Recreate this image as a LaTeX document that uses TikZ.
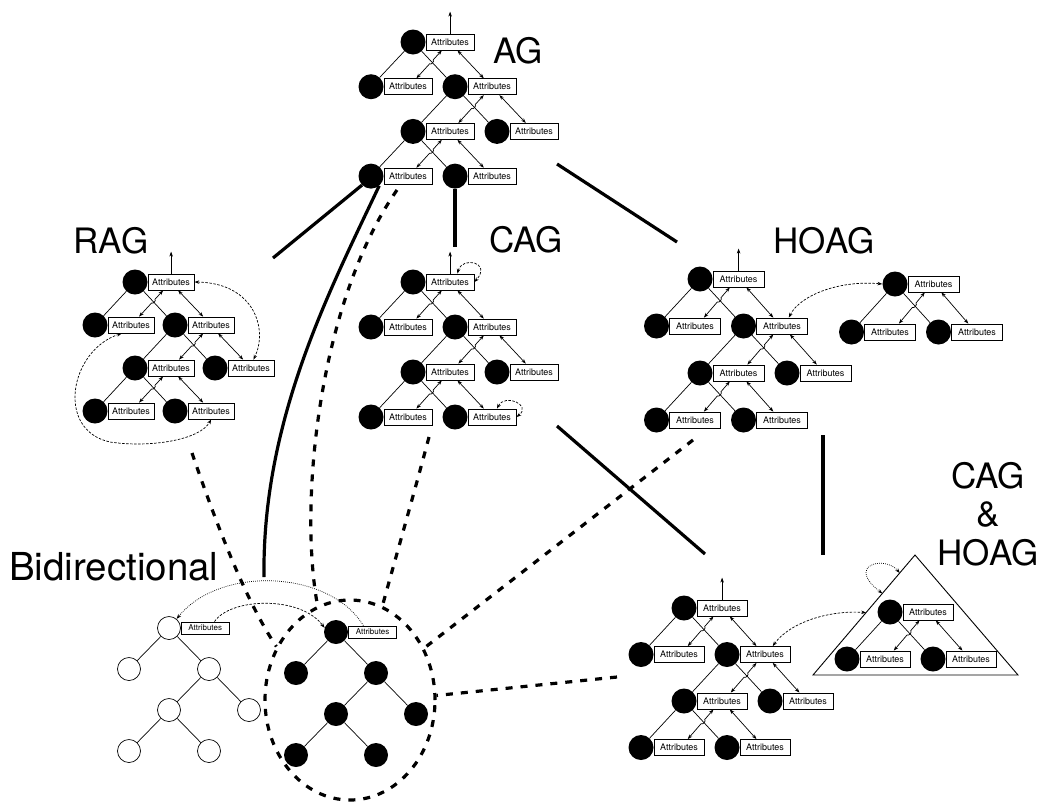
\documentclass[tikz,border=0pt]{standalone}
\usepackage{fontspec}
\setmainfont{TeX Gyre Heros}
\usetikzlibrary{arrows.meta,calc,shapes.geometric}
\tikzset{
  cnode/.style={circle, fill=black, minimum size=25pt, inner sep=0pt},
  bnode/.style={circle, fill=black, minimum size=24pt, inner sep=0pt},
  wnode/.style={circle, draw, fill=white, minimum size=23pt, inner sep=0pt, line width=0.7pt},
  abox/.style={draw, fill=white, minimum width=48pt, minimum height=16pt, inner sep=0pt, line width=0.8pt, font=\fontsize{9}{9}\selectfont},
  sbox/.style={abox, minimum height=12pt, font=\fontsize{8}{8}\selectfont},
  tedge/.style={line width=0.7pt},
  tip/.style={-{Stealth[length=5pt,width=3.6pt]}},
  battr/.style={{Stealth[length=4.8pt,width=3.5pt]}-{Stealth[length=4.8pt,width=3.5pt]}, line width=0.7pt},
  finedash/.style={line width=0.7pt, dash pattern=on 2.5pt off 1.5pt},
  finedot/.style={line width=0.7pt, dash pattern=on 0.8pt off 1.2pt},
  heavy/.style={line width=3.2pt},
  heavydash/.style={line width=3.2pt, dash pattern=on 7pt off 8pt},
  lbl/.style={font=\fontsize{35}{38}\selectfont, inner sep=0pt},
}
% left arrow with hop
\newcommand\hoparr[2]{%
  \coordinate (hA) at ($(#1.south west)!0.33!(#1.south east)$);
  \coordinate (hB) at ($(#2.north west)!0.67!(#2.north east)$);
  \draw[battr] (hA) -- ($(hA)!0.34!(hB)$) to[bend left=90] ($(hA)!0.48!(hB)$) -- (hB);}
\newcommand\strarr[2]{%
  \draw[battr] ($(#1.south west)!0.65!(#1.south east)$) -- ($(#2.north west)!0.33!(#2.north east)$);}
% full attributed tree: prefix, x, y, dx, dy, box width
\newcommand\attrtree[6]{%
  \node[cnode] (#1r) at (#2,#3) {};
  \node[cnode] (#1l) at ({#2-#4},{#3+#5}) {};
  \node[cnode] (#1R) at ({#2+#4},{#3+#5}) {};
  \node[cnode] (#1Rl) at (#2,{#3+2*#5}) {};
  \node[cnode] (#1Rr) at ({#2+2*#4},{#3+2*#5}) {};
  \node[cnode] (#1Rll) at ({#2-#4},{#3+3*#5}) {};
  \node[cnode] (#1Rlr) at ({#2+#4},{#3+3*#5}) {};
  \foreach \n in {r,l,R,Rl,Rr,Rll,Rlr}{\node[abox, minimum width=#6pt, anchor=west] (#1\n-b) at (#1\n.east) {Attributes};}
  \draw[tedge] (#1r) -- (#1l) (#1r) -- (#1R) (#1R) -- (#1Rl) (#1R) -- (#1Rr) (#1Rl) -- (#1Rll) (#1Rl) -- (#1Rlr);
  \hoparr{#1r-b}{#1l-b}\strarr{#1r-b}{#1R-b}
  \hoparr{#1R-b}{#1Rl-b}\strarr{#1R-b}{#1Rr-b}
  \hoparr{#1Rl-b}{#1Rll-b}\strarr{#1Rl-b}{#1Rlr-b}
  \coordinate (#1top) at ($(#1r-b.north)+(0,-22)$);
  \draw[tedge, tip] (#1r-b.north) -- (#1top);}
% small attributed tree
\newcommand\smalltree[6]{%
  \node[cnode] (#1r) at (#2,#3) {};
  \node[cnode] (#1l) at ({#2-#4},{#3+#5}) {};
  \node[cnode] (#1R) at ({#2+#4},{#3+#5}) {};
  \foreach \n in {r,l,R}{\node[abox, minimum width=#6pt, anchor=west] (#1\n-b) at (#1\n.east) {Attributes};}
  \draw[tedge] (#1r) -- (#1l) (#1r) -- (#1R);
  \hoparr{#1r-b}{#1l-b}\strarr{#1r-b}{#1R-b}}
% plain tree: prefix, x, y, dx, dy, style
\newcommand\plaintree[6]{%
  \node[#6] (#1r) at (#2,#3) {};
  \node[#6] (#1l) at ({#2-#4},{#3+#5}) {};
  \node[#6] (#1R) at ({#2+#4},{#3+#5}) {};
  \node[#6] (#1Rl) at (#2,{#3+2*#5}) {};
  \node[#6] (#1Rr) at ({#2+2*#4},{#3+2*#5}) {};
  \node[#6] (#1Rll) at ({#2-#4},{#3+3*#5}) {};
  \node[#6] (#1Rlr) at ({#2+#4},{#3+3*#5}) {};
  \node[sbox, anchor=west] (#1r-b) at (#1r.east) {Attributes};
  \draw[tedge] (#1r) -- (#1l) (#1r) -- (#1R) (#1R) -- (#1Rl) (#1R) -- (#1Rr) (#1Rl) -- (#1Rll) (#1Rl) -- (#1Rlr);}
\begin{document}
\begin{tikzpicture}[x=1pt,y=-1pt]
\useasboundingbox (0,0) rectangle (1046,804);
\fill[white] (0,0) rectangle (1046,804);

% labels
\node[lbl, anchor=base] (lAG) at (518,63) {AG};
\node[lbl, anchor=base] (lRAG) at (111,253) {RAG};
\node[lbl, anchor=base] (lCAG) at (526,252) {CAG};
\node[lbl, anchor=base] (lHOAG) at (824,253) {HOAG};
\node[lbl, font=\fontsize{38.5}{40}\selectfont, anchor=base west] (lBi) at (9,580) {Bidirectional};
\node[lbl, anchor=base] (lCH1) at (988,488) {CAG};
\node[lbl, anchor=base] (lCH2) at (988,526) {\&};
\node[lbl, anchor=base] (lCH3) at (988,565) {HOAG};

% ellipse around black tree
\node[ellipse, draw, heavydash, minimum width=170pt, minimum height=200pt, inner sep=0pt] (ell) at (350,700) {};

% trees
\attrtree{ag}{413}{42}{42}{44.7}{48}
\attrtree{rag}{135}{282}{40}{43}{46}
\attrtree{cag}{413}{282}{42}{45}{48}
\attrtree{hoag}{700}{279}{43.5}{47}{51}
\smalltree{hs}{895}{284}{43.5}{48}{51}
\attrtree{ch}{684}{608}{43}{46.5}{50}
\coordinate (triA) at (915,555);
\coordinate (triL) at (813,675);
\coordinate (triR) at (1018,675);
\draw[line width=0.9pt, fill=white] (triA) -- (triL) -- (triR) -- cycle;
\smalltree{cs}{890}{612}{43}{47}{50}
\plaintree{wt}{169}{628}{40}{41}{wnode}
\plaintree{bt}{336}{632}{40}{41}{bnode}

% RAG dashed arrows
\draw[finedash, battr] (ragr-b.east) .. controls (255,283) and (268,330) .. ($(ragRr-b.north west)!0.55!(ragRr-b.north east)$);
\draw[finedash, battr] ($(ragl-b.south west)!0.3!(ragl-b.south east)$) .. controls (70,350) and (55,430) .. (110,442) .. controls (150,448) and (200,440) .. ($(ragRlr-b.south west)!0.5!(ragRlr-b.south east)$);
% CAG self loops
\draw[finedash, battr] ($(cagr-b.north west)!0.65!(cagr-b.north east)$) .. controls (462,256) and (492,262) .. (cagr-b.east);
\draw[finedash, battr] ($(cagRlr-b.north west)!0.6!(cagRlr-b.north east)$) .. controls (505,393) and (532,405) .. (cagRlr-b.east);
% HOAG link to second tree
\draw[finedash, battr] ($(hoagR-b.north west)!0.63!(hoagR-b.north east)$) .. controls (800,295) and (840,280) .. (hsr.west);
% CAG & HOAG links
\draw[finedash, battr] ($(chR-b.north west)!0.65!(chR-b.north east)$) .. controls (790,622) and (830,610) .. ($(triL)!0.52!(triA)$);
\draw[finedot, battr] ($(triL)!0.85!(triA)$) .. controls (885,555) and (845,565) .. ($(triL)!0.68!(triA)$);
% Bidirectional arrows
\draw[finedash, tip] ($(wtr-b.north west)!0.69!(wtr-b.north east)$) .. controls (230,598) and (300,595) .. (btr.160);
\draw[finedot, tip] ($(btr-b.north west)!0.31!(btr-b.north east)$) .. controls (330,570) and (220,565) .. (wtr.50);

% heavy connectors
\coordinate (c1) at (273,258);
\draw[heavy] (agRll.225) -- (c1);
\coordinate (c2) at (455,247);
\draw[heavy] (agRlr.south) -- (c2);
\coordinate (c3a) at (557,164);
\coordinate (c3b) at (677,242);
\draw[heavy] (c3a) -- (c3b);
\coordinate (c4) at (264,577);
\draw[heavy] (agRll.-50) .. controls (330,290) and (262,420) .. (c4);
\coordinate (c5) at (397,190);
\draw[heavydash] (c5) .. controls (320,300) and (298,500) .. (ell.109);
\coordinate (c6) at (192,453);
\draw[heavydash] (c6) .. controls (215,520) and (245,600) .. (ell.144);
\coordinate (c7) at (429,437);
\draw[heavydash] (c7) .. controls (415,490) and (395,560) .. (ell.71);
\coordinate (c8a) at (557,426);
\coordinate (c8b) at (705,554);
\draw[heavy] (c8a) -- (c8b);
\coordinate (c9) at (693,440);
\draw[heavydash] (c9) -- (ell.35.6);
\coordinate (c10a) at (823,435);
\coordinate (c10b) at (823,555);
\draw[heavy] (c10a) -- (c10b);
\coordinate (c11) at (617,677);
\draw[heavydash] (c11) -- (ell.3);
\end{tikzpicture}
\end{document}
